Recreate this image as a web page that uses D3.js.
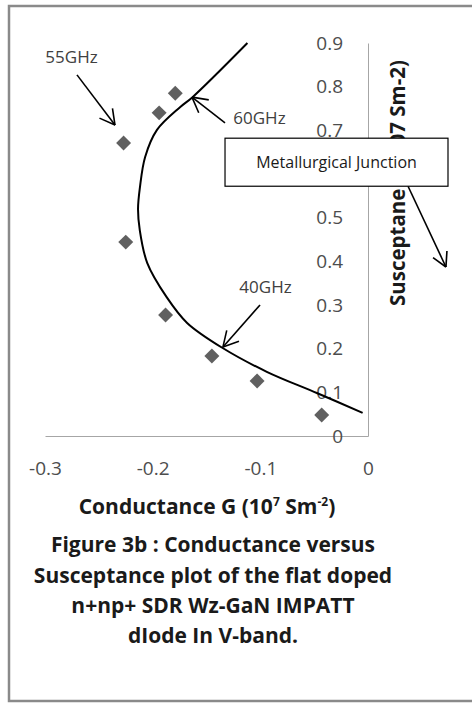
<!DOCTYPE html>
<html>
<head>
<meta charset="utf-8">
<script src="https://cdn.jsdelivr.net/npm/d3@7"></script>
<style>
  html, body { margin: 0; padding: 0; background: #fff; }
  text { font-family: "Open Sans", Lato, sans-serif; }
</style>
</head>
<body>
<div class="chart"></div>
<script>
// measured diode points (G, B)
var gPts = [-0.179, -0.194, -0.227, -0.225, -0.188, -0.145, -0.103, -0.043]
var bPts = [0.785, 0.740, 0.671, 0.444, 0.277, 0.183, 0.126, 0.048]
// fitted curve
var curveG = [-0.112, -0.163, -0.1746, -0.196, -0.207, -0.2118, -0.2136, -0.212, -0.205, -0.187, -0.168, -0.135, -0.094, -0.047, -0.005]
var curveB = [0.900, 0.776, 0.753, 0.701, 0.639, 0.570, 0.520, 0.472, 0.396, 0.318, 0.259, 0.2015, 0.147, 0.098, 0.053]
var xTicks = [-0.3, -0.2, -0.1, 0]
var yTicks = [0, 0.1, 0.2, 0.3, 0.4, 0.5, 0.6, 0.7, 0.8, 0.9]
var captionLines = [
  "Figure 3b : Conductance versus",
  "Susceptance plot of the flat doped",
  "n+np+ SDR  Wz-GaN IMPATT",
  "dIode In V-band."
]
// frequency notes: label position, arrow start, arrow tip (data units)
var notes = [
  {label: "55GHz", lx: -0.2754, ly: 0.868, from: [-0.2703, 0.827], to: [-0.235, 0.712]},
  {label: "60GHz", lx: -0.1008, ly: 0.728, from: [-0.1328, 0.717], to: [-0.1635, 0.776]},
  {label: "40GHz", lx: -0.0952, ly: 0.341, from: [-0.1003, 0.300], to: [-0.1347, 0.204]}
]

document.addEventListener("DOMContentLoaded", draw)
function draw(){
  var width = 472,
      height = 703

  var svg = d3.select(".chart").append("svg")
    .attr("width", width)
    .attr("height", height)

  svg.append("rect")
    .attr("width", width).attr("height", height)
    .attr("fill", "#fff")

  // picture frame
  svg.append("rect")
    .attr("x", 9).attr("y", 6)
    .attr("width", 480).attr("height", 695)
    .attr("fill", "none")
    .attr("stroke", "#8a8a8a")
    .attr("stroke-width", 2.5)

  var x = d3.scaleLinear().domain([-0.3, 0]).range([45, 368]),
      y = d3.scaleLinear().domain([0, 0.9]).range([436, 43])

  var fmt = function(d){ return d === 0 ? "0" : d3.format(".1f")(d).replace("−", "-") }

  var xAxis = svg.append("g")
    .attr("transform", "translate(0,436)")
    .call(d3.axisBottom(x).tickValues(xTicks).tickSize(0).tickPadding(26).tickFormat(fmt))
  xAxis.select(".domain").attr("stroke", "#a6a6a6")
  xAxis.selectAll("text").attr("font-size", 19).attr("fill", "#4d4d4d")

  var yAxis = svg.append("g")
    .attr("transform", "translate(368,0)")
    .call(d3.axisLeft(y).tickValues(yTicks).tickSize(0).tickPadding(25).tickFormat(fmt))
  yAxis.select(".domain").attr("stroke", "#a6a6a6")
  yAxis.selectAll("text").attr("font-size", 19).attr("fill", "#4d4d4d")

  // fitted curve
  var line = d3.line()
    .x(function(d){ return x(d[0]) })
    .y(function(d){ return y(d[1]) })
    .curve(d3.curveCatmullRom.alpha(0.5))

  svg.append("path")
    .datum(d3.zip(curveG, curveB))
    .attr("d", line)
    .attr("fill", "none")
    .attr("stroke", "#000")
    .attr("stroke-width", 2)

  // diamonds
  svg.append("g").selectAll("path")
    .data(d3.zip(gPts, bPts))
    .enter()
    .append("path")
    .attr("d", d3.symbol(d3.symbolSquare, 112))
    .attr("transform", function(d){ return `translate(${x(d[0])},${y(d[1])}) rotate(45)` })
    .attr("fill", "#606060")

  function arrow(g, a, b, len){
    var ang = Math.atan2(b[1] - a[1], b[0] - a[0])
    g.append("line")
      .attr("x1", a[0]).attr("y1", a[1]).attr("x2", b[0]).attr("y2", b[1])
    ;[-0.5, 0.5].forEach(function(s){
      g.append("line")
        .attr("x1", b[0]).attr("y1", b[1])
        .attr("x2", b[0] - len * Math.cos(ang + s))
        .attr("y2", b[1] - len * Math.sin(ang + s))
    })
  }

  var ann = svg.append("g")
    .attr("stroke", "#000")
    .attr("stroke-width", 1.6)
    .attr("fill", "none")

  notes.forEach(function(n){
    arrow(ann, [x(n.from[0]), y(n.from[1])], [x(n.to[0]), y(n.to[1])], 17)
    svg.append("text")
      .attr("x", x(n.lx)).attr("y", y(n.ly))
      .attr("dy", "0.35em")
      .attr("text-anchor", "middle")
      .attr("font-size", 17)
      .attr("fill", "#404040")
      .text(n.label)
  })

  // y axis title (partly hidden behind the box)
  svg.append("text")
    .attr("transform", "translate(398,306) rotate(-90)")
    .attr("dy", "0.35em")
    .attr("font-size", 20.5)
    .attr("font-weight", "bold")
    .attr("fill", "#1a1a1a")
    .text("Susceptane B (107 Sm-2)")

  // metallurgical junction callout
  arrow(ann, [x(0.0372), y(0.572)], [x(0.0724), y(0.387)], 16)
  svg.append("rect")
    .attr("x", x(-0.1328)).attr("y", y(0.682))
    .attr("width", x(0.0743) - x(-0.1328))
    .attr("height", y(0.572) - y(0.682))
    .attr("fill", "#fff")
    .attr("stroke", "#000")
    .attr("stroke-width", 1.2)
  svg.append("text")
    .attr("x", (x(-0.1328) + x(0.0743)) / 2)
    .attr("y", (y(0.682) + y(0.572)) / 2)
    .attr("dy", "0.35em")
    .attr("text-anchor", "middle")
    .attr("font-size", 16)
    .attr("fill", "#1a1a1a")
    .text("Metallurgical Junction")

  // x axis title with superscripts
  var xt = svg.append("text")
    .attr("x", 207).attr("y", 514)
    .attr("text-anchor", "middle")
    .attr("font-size", 21)
    .attr("font-weight", "bold")
    .attr("fill", "#1a1a1a")
  xt.append("tspan").text("Conductance G (10")
  xt.append("tspan").attr("dy", -8).attr("font-size", 12).text("7")
  xt.append("tspan").attr("dy", 8).text(" Sm")
  xt.append("tspan").attr("dy", -8).attr("font-size", 12).text("-2")
  xt.append("tspan").attr("dy", 8).text(")")

  // caption
  svg.append("g").selectAll("text")
    .data(captionLines)
    .enter()
    .append("text")
    .attr("x", 213)
    .attr("y", function(d, i){ return 545 + i * 30.3 })
    .attr("dy", "0.35em")
    .attr("text-anchor", "middle")
    .attr("font-size", 21)
    .attr("font-weight", "bold")
    .attr("fill", "#1a1a1a")
    .text(function(d){ return d })
}
</script>
</body>
</html>
